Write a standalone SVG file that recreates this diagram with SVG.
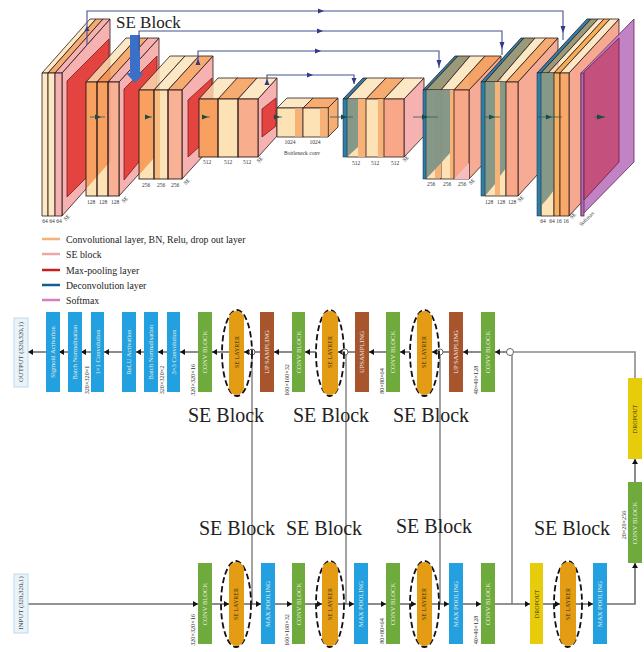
<svg xmlns="http://www.w3.org/2000/svg" width="644" height="652" viewBox="0 0 644 652">
<style>
text{font-family:"Liberation Serif","Times New Roman",serif}
.k{stroke:#2b1a1a;stroke-width:.8;stroke-linejoin:round}
.n{fill:none;stroke:#2b1a1a;stroke-width:.9}
.c{fill:#fde2b6;fill-opacity:.8}
.cc{fill:#fde2b6}
.o{fill:#f59f5c;fill-opacity:.88}
.ov{fill:#f79a58;stroke:none;fill-opacity:.92}
.s{fill:#f7a888;fill-opacity:.9}
.p{fill:#f4a3a3;fill-opacity:.85}
.sd{fill:#f5a48c;fill-opacity:.92}
.r{fill:#e4443f;stroke:#7c1a1a;stroke-width:.8}
.g{fill:#7f9485;fill-opacity:.95;stroke:none}
.b{fill:#2e7fa8;stroke:#123;stroke-width:.5}
.sk{fill:none;stroke:#45508f;stroke-width:1.1}
.fl{stroke:#2c5a58;stroke-width:.8;fill:none}
.h{fill:#1e4a48}
.h2{fill:#2f3a8a}
.t5{font-size:5.500px;fill:#333;text-anchor:middle}
.se17{font-size:17px;fill:#222}
.se20{font-size:20px;fill:#222}
.lg{font-size:9.800px;fill:#222}
.ll{stroke-width:2.5}
.bx{stroke:none}
.bl{fill:#23a0e0}.gr{fill:#6eaa3c}.br{fill:#a8552e}.ye{fill:#e6cc0a}
.io{fill:#e9f3fa;stroke:#bcd9ef;stroke-width:1}
.lb{font-size:6.600px;fill:#e8f0e0;text-anchor:middle}
.dk{font-size:6px;fill:#3a2a10;text-anchor:middle}
.di{font-size:6.200px;fill:#333;text-anchor:middle}
.io-t{font-size:6.800px;fill:#444;text-anchor:middle}
.el{fill:none;stroke:#111;stroke-width:1.8;stroke-dasharray:6 3}
.or{fill:#e39c14}
.ln{stroke:#8c8c8c;stroke-width:1.6;fill:none}
.ar{stroke:#6f6f6f;stroke-width:1.6;fill:none;marker-end:url(#a)}
.cr{fill:#fff;stroke:#666;stroke-width:1}
</style>
<defs>
<marker id="a" markerUnits="userSpaceOnUse" markerWidth="6" markerHeight="6" refX="5" refY="3" orient="auto"><path d="M0 0L5 3L0 6Z" fill="#111"/></marker>
</defs>
<rect width="644" height="652" fill="#fff"/>

<g id="enc64">
<polygon class="p k" points="62,73 110,19 110,162 62,216"/>
<polygon class="c k" points="42,73 90,19 96,19 48,73"/>
<polygon class="o k" points="48,73 96,19 103,19 55,73"/>
<polygon class="p k" points="55,73 103,19 110,19 62,73"/>
<rect class="c k" x="42" y="73" width="6" height="143"/>
<rect class="c k" x="48" y="73" width="7" height="143"/>
<rect class="p k" x="55" y="73" width="7" height="143"/>
<polygon class="r" points="67,81 109,39 109,155 67,197"/>
<text class="t5" x="45" y="223">64</text><text class="t5" x="52" y="223">64</text><text class="t5" x="59" y="223">64</text>
<text class="t5" transform="translate(68,219) rotate(-45)">SE</text>
</g>
<g id="enc128">
<polygon class="p k" points="119,82 159,38 159,152 119,196"/>
<polygon class="c k" points="86,82 126,38 137,38 97,82"/>
<polygon class="o k" points="97,82 137,38 148,38 108,82"/>
<polygon class="p k" points="108,82 148,38 159,38 119,82"/>
<rect class="cc" x="86" y="82" width="22" height="114"/>
<polygon class="ov" points="86,82 108,82 108,164 86,189"/>
<rect class="s" x="108" y="82" width="11" height="114"/>
<rect class="n" x="86" y="82" width="11" height="114"/>
<rect class="n" x="97" y="82" width="11" height="114"/>
<rect class="n" x="108" y="82" width="11" height="114"/>
<polygon class="r" points="124,89 157,56 157,140 124,180"/>
<text class="t5" x="91" y="204">128</text><text class="t5" x="103" y="204">128</text><text class="t5" x="115" y="204">128</text>
<text class="t5" transform="translate(126,201) rotate(-45)">SE</text>
</g>
<g id="enc256">
<polygon class="p k" points="182,90 213,56 213,145 182,179"/>
<polygon class="c k" points="139,90 170,56 185,56 154,90"/>
<polygon class="c k" points="154,90 185,56 199,56 168,90"/>
<polygon class="o k" points="168,90 199,56 213,56 182,90"/>
<rect class="cc" x="139" y="90" width="29" height="89"/>
<polygon class="ov" points="139,90 154,90 154,158 139,175"/>
<rect fill="#f8bb80" x="155" y="90" width="5" height="89"/>
<rect class="s" x="168" y="90" width="14" height="89"/>
<rect class="n" x="139" y="90" width="15" height="89"/>
<rect class="n" x="154" y="90" width="14" height="89"/>
<rect class="n" x="168" y="90" width="14" height="89"/>
<polygon class="r" points="188,100 212,78 212,135 188,157"/>
<text class="t5" x="146" y="187">256</text><text class="t5" x="161" y="187">256</text><text class="t5" x="175" y="187">256</text>
<text class="t5" transform="translate(188,183) rotate(-45)">SE</text>
</g>
<g id="enc512">
<polygon class="p k" points="258,99 277,78 277,136 258,157"/>
<polygon class="c k" points="199,99 218,78 238,78 219,99"/>
<polygon class="o k" points="218,99 237,78 257,78 238,99"/>
<polygon class="c k" points="238,99 257,78 277,78 258,99"/>
<rect class="cc" x="199" y="99" width="59" height="58"/>
<polygon class="ov" points="199,99 218,99 218,157 199,157"/>
<rect class="s" x="238" y="99" width="20" height="58"/>
<rect class="n" x="199" y="99" width="19" height="58"/>
<rect class="n" x="218" y="99" width="20" height="58"/>
<rect class="n" x="238" y="99" width="20" height="58"/>
<polygon class="r" points="262,109 276,98 276,126 262,137"/>
<text class="t5" x="207" y="164">512</text><text class="t5" x="228" y="164">512</text><text class="t5" x="247" y="164">512</text>
<text class="t5" transform="translate(261,161) rotate(-45)">SE</text>
</g>
<g id="bottleneck">
<polygon points="328,108 338,98 338,127 328,137" fill="#f6ae72" class="k"/>
<polygon class="c k" points="277,108 287,98 313,98 303,108"/>
<polygon class="o k" points="303,108 313,98 338,98 328,108"/>
<rect fill="#fde2b6" class="k" x="277" y="108" width="26" height="29"/>
<rect fill="#f6b277" x="295" y="108.500" width="7" height="28"/>
<rect fill="#fde2b6" class="k" x="303" y="108" width="25" height="29"/>
<rect fill="#f6b277" x="320" y="108.500" width="7.500" height="28"/>
<text class="t5" x="290" y="144">1024</text>
<text class="t5" x="315" y="144">1024</text>
<text class="t5" x="302" y="155">Bottleneck conv</text>
</g>
<g id="dec512">
<polygon class="p k" points="404,99 424,78 424,136 404,157"/>
<polygon fill="#2e7fa8" class="k" points="343,99 363,78 367,78 347,99"/>
<polygon class="c k" points="347,99 367,78 386,78 366,99"/>
<polygon class="o k" points="366,99 386,78 404,78 384,99"/>
<polygon class="c k" points="384,99 404,78 424,78 404,99"/>
<rect fill="#fde2b6" class="k" x="347" y="99" width="19" height="58"/>
<polygon class="g" points="347,99 358,99 358,147 347,157"/>
<rect fill="#f6b277" x="358" y="99" width="8" height="58"/>
<rect fill="#fde2b6" class="k" x="366" y="99" width="18" height="58"/>
<rect fill="#f6b277" x="378" y="99" width="6" height="58"/>
<rect fill="#f8a888" class="k" x="384" y="99" width="20" height="58"/>
<rect class="b" x="343" y="99" width="4" height="58"/>
<text class="t5" x="356" y="165">512</text><text class="t5" x="375" y="165">512</text><text class="t5" x="395" y="165">512</text>
<text class="t5" transform="translate(407,160) rotate(-45)">SE</text>
</g>
<g id="dec256">
<polygon class="sd k" points="469,90 501,56 501,145 469,179"/>
<polygon fill="#f4b0b0" points="469,90 501,56 485,56 469,73"/>
<polygon fill="#2e7fa8" class="k" points="423,90 455,56 458,56 426,90"/>
<polygon fill="#9a9a7a" class="k" points="426,90 458,56 470,56 441,90"/>
<polygon class="c k" points="441,90 470,56 485,56 454,90"/>
<polygon class="o k" points="454,90 485,56 501,56 469,90"/>
<rect fill="#fde2b6" class="k" x="426" y="90" width="15" height="89"/>
<rect fill="#fde2b6" class="k" x="441" y="90" width="13" height="89"/>
<rect fill="#f6b277" x="435" y="90" width="6" height="88"/>
<rect fill="#f6b277" x="450" y="90" width="4" height="88"/>
<polygon class="g" points="426,90 441,90 441,163 426,179"/>
<polygon class="g" points="441,90 450,90 450,153 441,163"/>
<rect fill="#f8a888" class="k" x="454" y="90" width="15" height="89"/>
<polygon points="454,179 469,179 469,163" fill="#f7bcc0"/>
<rect class="b" x="423" y="90" width="3" height="89"/>
<text class="t5" x="431" y="186">256</text><text class="t5" x="447" y="186">256</text><text class="t5" x="462" y="186">256</text>
<text class="t5" transform="translate(473,183) rotate(-45)">SE</text>
</g>
<g id="dec128">
<polygon class="sd k" points="518,82 558,38 558,152 518,196"/>
<polygon fill="#2e7fa8" class="k" points="481,82 521,38 524,38 485,82"/>
<polygon fill="#9a9a7a" class="k" points="485,82 524,38 535,38 497,82"/>
<polygon class="c k" points="497,82 535,38 546,38 506,82"/>
<polygon class="o k" points="506,82 546,38 558,38 518,82"/>
<rect fill="#fde2b6" class="k" x="485" y="82" width="21" height="114"/>
<rect fill="#f6b277" x="495" y="82" width="5" height="113"/>
<polygon class="g" points="485,82 495,82 495,184 485,196"/>
<polygon class="g" points="500,82 506,82 506,168 500,176"/>
<rect fill="#f8a888" class="k" x="506" y="82" width="12" height="114"/>
<rect class="b" x="481" y="82" width="4" height="114"/>
<text class="t5" x="489" y="204">128</text><text class="t5" x="501" y="204">128</text><text class="t5" x="512" y="204">128</text>
<text class="t5" transform="translate(522,200) rotate(-45)">SE</text>
</g>
<g id="dec64">
<polygon fill="#f6a890" class="k" points="569,73 619,19 619,162 569,216"/>
<polygon fill="#2e7fa8" class="k" points="537,73 587,19 591,19 541,73"/>
<polygon fill="#9a9a7a" class="k" points="541,73 591,19 598,19 548,73"/>
<polygon class="c k" points="548,73 598,19 604,19 554,73"/>
<polygon fill="#f7ad58" class="k" points="554,73 604,19 610,19 560,73"/>
<polygon class="c k" points="560,73 610,19 619,19 569,73"/>
<rect fill="#fde2b6" class="k" x="541" y="73" width="13" height="143"/>
<polygon class="g" points="541,73 548,73 548,198 541,206"/>
<polygon class="g" points="548,73 554,73 554,190 548,198"/>
<rect fill="#f8b060" class="k" x="554" y="73" width="6" height="143"/>
<rect fill="#f8a868" class="k" x="560" y="73" width="9" height="143"/>
<rect class="b" x="537" y="73" width="4" height="143"/>
<text class="t5" x="543" y="223">64</text><text class="t5" x="552" y="223">64</text><text class="t5" x="559" y="223">16</text><text class="t5" x="566" y="223">16</text>
<text class="t5" transform="translate(574,217) rotate(-45)">SE</text>
</g>
<g id="softmax">
<polygon fill="#c283c4" stroke="#5a2a5a" stroke-width=".8" points="581,73 634,19 634,162 581,216"/>
<rect fill="#b46cb4" stroke="#5a2a5a" stroke-width=".8" x="581" y="73" width="3" height="143"/>
<polygon fill="#c4507e" stroke="#6a1a4a" stroke-width=".8" points="584,72 619,38 619,162 584,200"/>
<text class="t5" transform="translate(588,220) rotate(-45)">Softmax</text>
</g>

<g id="se-block-callout">
<text class="se17" x="116" y="28">SE Block</text>
<polygon points="130,35 140,35 140,73 144,73 135,83 126,73 130,73" fill="#3a70c8"/>
</g>

<g id="connectors-top">
<path class="sk" d="M87 45V11H563V40"/>
<path class="sk" d="M139 50V31H502V55"/>
<path class="sk" d="M198 65V51H439V68"/>
<path class="sk" d="M267 85V75H354V84"/>
<polygon class="h2" points="84.500,31 89.500,31 87,26"/>
<polygon class="h2" points="318,8.500 318,13.500 324,11"/>
<polygon class="h2" points="317,28.500 317,33.500 323,31"/>
<polygon class="h2" points="315,48.500 315,53.500 321,51"/>
<polygon class="h2" points="307,72.500 307,77.500 313,75"/>
<polygon class="h2" points="195.500,65 200.500,65 198,59"/>
<polygon class="h2" points="264.500,85 269.500,85 267,79"/>
<polygon class="h2" points="560.500,26 565.500,26 563,33"/>
<polygon class="h2" points="499.500,42 504.500,42 502,49"/>
<polygon class="h2" points="436.500,60 441.500,60 439,67"/>
<polygon class="h2" points="351.500,78 356.500,78 354,84"/>
<path class="fl" d="M90 117H105M145 117H152M202 117H210M273 117H282M330 117H353M413 117H438M484 117H500M537 117H562M595 117H605"/>
<g class="h">
<polygon points="95,114.500 95,119.500 101,117"/><polygon points="145,114.500 145,119.500 151,117"/><polygon points="202,114.500 202,119.500 208,117"/><polygon points="274,114.500 274,119.500 280,117"/><polygon points="341,114.500 341,119.500 347,117"/><polygon points="422,114.500 422,119.500 428,117"/><polygon points="489,114.500 489,119.500 495,117"/><polygon points="546,114.500 546,119.500 552,117"/><polygon points="597,114.500 597,119.500 605,117"/>
</g>
</g>

<g id="legend">
<line class="ll" x1="42" y1="239" x2="60" y2="239" stroke="#f4b27a"/><text class="lg" x="66" y="243">Convolutional layer, BN, Relu, drop out layer</text>
<line class="ll" x1="42" y1="254" x2="60" y2="254" stroke="#f2a5a5"/><text class="lg" x="66" y="258">SE block</text>
<line class="ll" x1="42" y1="270" x2="60" y2="270" stroke="#c81e1e"/><text class="lg" x="66" y="274">Max-pooling layer</text>
<line class="ll" x1="42" y1="285" x2="60" y2="285" stroke="#0e5f96"/><text class="lg" x="66" y="289">Deconvolution layer</text>
<line class="ll" x1="42" y1="300" x2="60" y2="300" stroke="#d67fc0"/><text class="lg" x="66" y="304">Softmax</text>
</g>

<g id="connectors">
<path class="ln" d="M252 352V604M346 352V604M440 352V604M512 352V604"/>
<path class="ln" d="M510 352H635V378"/>
<line class="ar" x1="507" y1="352" x2="495" y2="352"/>
<line class="ar" x1="481" y1="352" x2="463" y2="352"/>
<line class="ar" x1="449" y1="352" x2="432" y2="352"/>
<line class="ar" x1="410" y1="352" x2="400" y2="352"/>
<line class="ar" x1="386" y1="352" x2="369" y2="352"/>
<line class="ar" x1="355" y1="352" x2="338" y2="352"/>
<line class="ar" x1="316" y1="352" x2="305" y2="352"/>
<line class="ar" x1="292" y1="352" x2="274" y2="352"/>
<line class="ar" x1="260" y1="352" x2="244" y2="352"/>
<line class="ar" x1="229" y1="352" x2="212" y2="352"/>
<line class="ar" x1="198" y1="352" x2="180" y2="352"/>
<line class="ar" x1="167" y1="352" x2="158" y2="352"/>
<line class="ar" x1="144" y1="352" x2="136" y2="352"/>
<line class="ar" x1="122" y1="352" x2="104" y2="352"/>
<line class="ar" x1="91" y1="352" x2="81" y2="352"/>
<line class="ar" x1="68" y1="352" x2="59" y2="352"/>
<line class="ar" x1="46" y1="352" x2="28" y2="352"/>
<line class="ar" x1="28" y1="604" x2="198" y2="604"/>
<line class="ar" x1="212" y1="604" x2="229" y2="604"/>
<line class="ar" x1="244" y1="604" x2="261" y2="604"/>
<line class="ar" x1="275" y1="604" x2="292" y2="604"/>
<line class="ar" x1="305" y1="604" x2="322" y2="604"/>
<line class="ar" x1="338" y1="604" x2="354" y2="604"/>
<line class="ar" x1="368" y1="604" x2="386" y2="604"/>
<line class="ar" x1="400" y1="604" x2="416" y2="604"/>
<line class="ar" x1="432" y1="604" x2="449" y2="604"/>
<line class="ar" x1="463" y1="604" x2="481" y2="604"/>
<line class="ar" x1="495" y1="604" x2="530" y2="604"/>
<line class="ar" x1="543" y1="604" x2="560" y2="604"/>
<line class="ar" x1="576" y1="604" x2="593" y2="604"/>
<path class="ar" d="M607 604H635V563"/>
<line class="ar" x1="635" y1="482" x2="635" y2="459"/>
<circle class="cr" cx="510" cy="352" r="3.500"/>
<circle class="cr" cx="440" cy="352" r="3"/>
<circle class="cr" cx="345" cy="352" r="3"/>
<circle class="cr" cx="252" cy="352" r="3"/>
</g>

<g id="output"><rect class="io" x="14" y="318" width="14" height="69"/><text class="io-t" transform="translate(23,352) rotate(-90)">OUTPUT (320,320,1)</text></g>
<g id="sigmoid"><rect class="bx bl" x="46" y="312" width="14" height="80"/><text class="lb" transform="translate(55,352) rotate(-90)">Sigmoid Activation</text></g>
<g id="bn2"><rect class="bx bl" x="68" y="312" width="14" height="80"/><text class="lb" transform="translate(77,352) rotate(-90)">Batch Normalisation</text></g>
<g id="conv1x1"><rect class="bx bl" x="91" y="312" width="13" height="80"/><text class="lb" transform="translate(100,352) rotate(-90)">1×1 Convolution</text></g>
<g id="relu"><rect class="bx bl" x="122" y="312" width="14" height="80"/><text class="lb" transform="translate(131,352) rotate(-90)">ReLU Activation</text></g>
<g id="bn1"><rect class="bx bl" x="144" y="312" width="14" height="80"/><text class="lb" transform="translate(153,352) rotate(-90)">Batch Normalisation</text></g>
<g id="conv3x3"><rect class="bx bl" x="167" y="312" width="13" height="80"/><text class="lb" transform="translate(176,352) rotate(-90)">3×3 Convolution</text></g>
<g id="up-conv1"><rect class="bx gr" x="198" y="312" width="14" height="80"/><text class="lb" transform="translate(207,352) rotate(-90)">CONV BLOCK</text></g>
<g id="up-se1"><ellipse class="el" cx="237" cy="353" rx="15" ry="43"/><rect class="or" x="229" y="311" width="15" height="84" rx="7.500"/><text class="dk" transform="translate(239,352) rotate(-90)">SE LAYRER</text></g>
<g id="up-samp1"><rect class="bx br" x="260" y="312" width="14" height="80"/><text class="lb" transform="translate(269,352) rotate(-90)">UP SAMPLING</text></g>
<g id="up-conv2"><rect class="bx gr" x="292" y="312" width="13" height="80"/><text class="lb" transform="translate(301,352) rotate(-90)">CONV BLOCK</text></g>
<g id="up-se2"><ellipse class="el" cx="330" cy="353" rx="14" ry="43"/><rect class="or" x="322" y="311" width="16" height="84" rx="8"/><text class="dk" transform="translate(332,352) rotate(-90)">SE LAYRER</text></g>
<g id="up-samp2"><rect class="bx br" x="355" y="312" width="14" height="80"/><text class="lb" transform="translate(364,352) rotate(-90)">UPSAMPLING</text></g>
<g id="up-conv3"><rect class="bx gr" x="386" y="312" width="14" height="80"/><text class="lb" transform="translate(395,352) rotate(-90)">CONV BLOCK</text></g>
<g id="up-se3"><ellipse class="el" cx="424.500" cy="353" rx="14.500" ry="43"/><rect class="or" x="417" y="311" width="15" height="84" rx="7.500"/><text class="dk" transform="translate(426,352) rotate(-90)">SE LAYRER</text></g>
<g id="up-samp3"><rect class="bx br" x="449" y="312" width="14" height="80"/><text class="lb" transform="translate(458,352) rotate(-90)">UP SAMPLING</text></g>
<g id="up-conv4"><rect class="bx gr" x="481" y="312" width="14" height="80"/><text class="lb" transform="translate(490,352) rotate(-90)">CONV BLOCK</text></g>
<g id="bridge-dropout"><rect class="bx ye" x="628" y="378" width="14" height="81"/><text class="dk" transform="translate(637,419) rotate(-90)">DROPOUT</text></g>
<g id="bridge-conv"><rect class="bx gr" x="628" y="482" width="14" height="81"/><text class="lb" transform="translate(637,523) rotate(-90)">CONV BLOCK</text></g>

<g id="input"><rect class="io" x="14" y="574" width="14" height="59"/><text class="io-t" transform="translate(23,603) rotate(-90)">INPUT (320,320,1)</text></g>
<g id="dn-conv1"><rect class="bx gr" x="198" y="563" width="14" height="81"/><text class="lb" transform="translate(207,604) rotate(-90)">CONV BLOCK</text></g>
<g id="dn-se1"><ellipse class="el" cx="236" cy="604" rx="15" ry="43"/><rect class="or" x="229" y="562" width="15" height="84" rx="7.500"/><text class="dk" transform="translate(238,604) rotate(-90)">SE LAYRER</text></g>
<g id="dn-pool1"><rect class="bx bl" x="261" y="563" width="14" height="81"/><text class="lb" transform="translate(270,604) rotate(-90)">MAX POOLING</text></g>
<g id="dn-conv2"><rect class="bx gr" x="292" y="563" width="13" height="81"/><text class="lb" transform="translate(301,604) rotate(-90)">CONV BLOCK</text></g>
<g id="dn-se2"><ellipse class="el" cx="330" cy="604" rx="14" ry="43"/><rect class="or" x="322" y="562" width="16" height="84" rx="8"/><text class="dk" transform="translate(332,604) rotate(-90)">SE LAYRER</text></g>
<g id="dn-pool2"><rect class="bx bl" x="354" y="563" width="14" height="81"/><text class="lb" transform="translate(363,604) rotate(-90)">MAX POOLING</text></g>
<g id="dn-conv3"><rect class="bx gr" x="386" y="563" width="14" height="81"/><text class="lb" transform="translate(395,604) rotate(-90)">CONV BLOCK</text></g>
<g id="dn-se3"><ellipse class="el" cx="424.500" cy="604" rx="14.500" ry="43"/><rect class="or" x="417" y="562" width="15" height="84" rx="7.500"/><text class="dk" transform="translate(426,604) rotate(-90)">SE LAYRER</text></g>
<g id="dn-pool3"><rect class="bx bl" x="449" y="563" width="14" height="81"/><text class="lb" transform="translate(458,604) rotate(-90)">MAX POOLING</text></g>
<g id="dn-conv4"><rect class="bx gr" x="481" y="563" width="14" height="81"/><text class="lb" transform="translate(490,604) rotate(-90)">CONV BLOCK</text></g>
<g id="dn-dropout"><rect class="bx ye" x="530" y="563" width="13" height="81"/><text class="dk" transform="translate(539,604) rotate(-90)">DROPOUT</text></g>
<g id="dn-se4"><ellipse class="el" cx="568" cy="604" rx="14" ry="43"/><rect class="or" x="560" y="562" width="16" height="84" rx="8"/><text class="dk" transform="translate(570,604) rotate(-90)">SE LAYRER</text></g>
<g id="dn-pool4"><rect class="bx bl" x="593" y="563" width="14" height="81"/><text class="lb" transform="translate(602,604) rotate(-90)">MAX POOLING</text></g>

<g id="dims">
<text class="di" transform="translate(89,380) rotate(-90)">320×320×1</text>
<text class="di" transform="translate(164,380) rotate(-90)">320×320×2</text>
<text class="di" transform="translate(195,380) rotate(-90)">320×320×16</text>
<text class="di" transform="translate(289,380) rotate(-90)">160×160×32</text>
<text class="di" transform="translate(384,381) rotate(-90)">80×80×64</text>
<text class="di" transform="translate(478,380) rotate(-90)">40×40×128</text>
<text class="di" transform="translate(195,630) rotate(-90)">320×320×16</text>
<text class="di" transform="translate(289,630) rotate(-90)">160×160×32</text>
<text class="di" transform="translate(384,631) rotate(-90)">80×80×64</text>
<text class="di" transform="translate(478,630) rotate(-90)">40×40×128</text>
<text class="di" transform="translate(626,525) rotate(-90)">20×20×256</text>
</g>

<g id="se-labels">
<text class="se20" x="188" y="422">SE Block</text>
<text class="se20" x="293" y="422">SE Block</text>
<text class="se20" x="393" y="422">SE Block</text>
<text class="se20" x="199" y="535">SE Block</text>
<text class="se20" x="286" y="535">SE Block</text>
<text class="se20" x="396" y="533">SE Block</text>
<text class="se20" x="534" y="535">SE Block</text>
</g>
</svg>
